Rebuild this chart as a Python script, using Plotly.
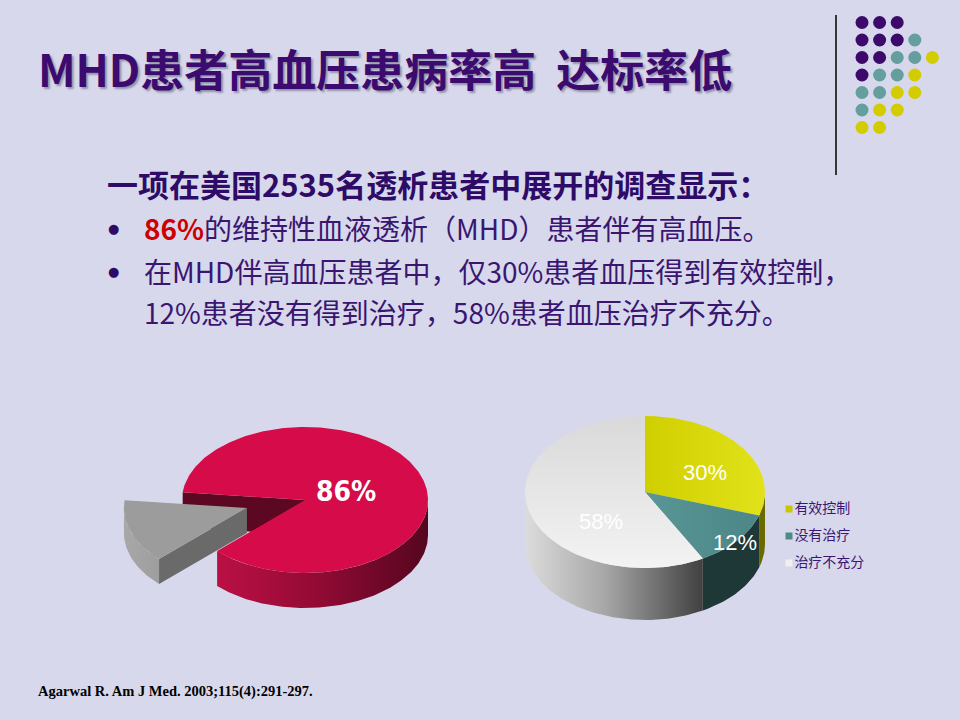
import numpy as np
import plotly.graph_objects as go

# ---- data ----
hbp_labels = ["无高血压", "伴有高血压"]
hbp_values = [14, 86]

ctrl_labels = ["有效控制", "没有治疗", "治疗不充分"]
ctrl_values = [30, 12, 58]

title_text = "MHD患者高血压患病率高  达标率低"
lead_text = "一项在美国2535名透析患者中展开的调查显示："
bullet_1 = "<span style='color:#CC0000'><b>86%</b></span>的维持性血液透析（MHD）患者伴有高血压。"
bullet_2 = ["在MHD伴高血压患者中，仅30%患者血压得到有效控制，",
            "12%患者没有得到治疗，58%患者血压治疗不充分。"]
source_text = "Agarwal R. Am J Med. 2003;115(4):291-297."

# decorative dot grid: P purple, T teal, Y yellow
dot_rows = ["PPP", "PPPT", "PPTTY", "PTTY", "TTYY", "TYY", "YY"]

BG = "#D8D8EC"
PURPLE = "#3B0B70"


def arc(cx, cy, a, b, t0, t1):
    n = max(int(abs(t1 - t0)), 2) + 1
    t = np.radians(np.linspace(t0, t1, n))
    return cx + a * np.cos(t), cy - b * np.sin(t)


def slice_angles(values, start, clockwise):
    total = float(sum(values))
    out, cur = [], start
    for v in values:
        span = 360.0 * v / total
        if clockwise:
            out.append((cur - span, cur))
            cur -= span
        else:
            out.append((cur, cur + span))
            cur += span
    return out


def poly(fig, xs, ys, color=None, grad=None):
    kw = dict(x=list(xs) + [xs[0]], y=list(ys) + [ys[0]], fill="toself", mode="lines",
              line=dict(width=0), hoverinfo="skip", showlegend=False)
    if grad is not None:
        kw["fillgradient"] = grad
        kw["fillcolor"] = grad["colorscale"][0][1]
    else:
        kw["fillcolor"] = color
    fig.add_trace(go.Scatter(**kw))


def add_walls(fig, cx, cy, a, b, depth, t0, t1, wall_scale, face_color=None, grad_stop=None):
    for k in range(-1, 3):
        lo, hi = max(t0, 180 + 360 * k), min(t1, 360 + 360 * k)
        if hi > lo:
            xs, ys = arc(cx, cy, a, b, lo, hi)
            px = np.concatenate([xs, xs[::-1]])
            py = np.concatenate([ys, ys[::-1] + depth])
            poly(fig, px, py, grad=dict(type="horizontal", colorscale=wall_scale,
                                         start=cx - a, stop=grad_stop if grad_stop else cx + a))
    if face_color:
        for t, vis in ((t0, np.cos(np.radians(t0)) > 0), (t1, np.cos(np.radians(t1)) < 0)):
            if vis:
                ex = cx + a * np.cos(np.radians(t))
                ey = cy - b * np.sin(np.radians(t))
                poly(fig, [cx, ex, ex, cx], [cy, ey, ey + depth, cy + depth], color=face_color)


def add_top(fig, cx, cy, a, b, t0, t1, color=None, grad=None):
    xs, ys = arc(cx, cy, a, b, t0, t1)
    poly(fig, np.concatenate([[cx], xs]), np.concatenate([[cy], ys]), color=color, grad=grad)


fig = go.Figure()

# ---- pie 1: 86% hypertension, exploded remainder ----
c1x, c1y, a1, b1, d1 = 305, 500, 123, 73, 35
ang1 = slice_angles(hbp_values, 174, clockwise=False)
(g0, g1), (r0, r1) = ang1
add_walls(fig, c1x, c1y, a1, b1, d1, r0, r1,
          [[0, "#C8124A"], [0.5, "#980B37"], [1, "#55061F"]], face_color="#5C0822")
add_top(fig, c1x, c1y, a1, b1, r0, r1, color="#D50C49")
mid = np.radians((g0 + g1) / 2)
gx = c1x + 0.5 * a1 * np.cos(mid)
gy = c1y - 0.5 * b1 * np.sin(mid) - 4
add_walls(fig, gx, gy, a1, b1, d1 - 10, g0, g1,
          [[0, "#A8A8A8"], [1, "#606060"]], face_color="#6A6A6A")
add_top(fig, gx, gy, a1, b1, g0, g1, color="#9C9C9C")
rm = np.radians((r0 + r1) / 2)
fig.add_annotation(x=c1x + 0.35 * a1 * np.cos(rm), y=c1y - 0.35 * b1 * np.sin(rm),
                   text=f"<b>{hbp_values[1]}%</b>", showarrow=False,
                   font=dict(family="DejaVu Sans Condensed, Liberation Sans Narrow, sans-serif",
                             size=28, color="white"))

# ---- pie 2: control status ----
c2x, c2y, a2, b2, d2 = 645, 492, 120, 76, 52
ang2 = slice_angles(ctrl_values, 90, clockwise=True)
walls2 = [
    [[0, "#9A9A00"], [1, "#6A6A00"]],
    [[0, "#2E5252"], [1, "#1E3838"]],
    [[0, "#DCDCDC"], [0.45, "#A6A6A6"], [1, "#3E3E3E"]],
]
tops2 = [
    dict(type="horizontal", colorscale=[[0, "#CFCF00"], [1, "#E2E21A"]]),
    dict(type="horizontal", colorscale=[[0, "#5A9696"], [1, "#4C8686"]]),
    dict(type="vertical", colorscale=[[0, "#F3F3F3"], [1, "#D9D9D9"]]),
]
for (t0, t1), ws in zip(ang2, walls2):
    add_walls(fig, c2x, c2y, a2, b2, d2, t0, t1, ws, grad_stop=c2x + 0.5 * a2)
for (t0, t1), tg in zip(ang2, tops2):
    add_top(fig, c2x, c2y, a2, b2, t0, t1, grad=tg)

label_pos = [(0.62, 8), (0.97, 4), (0.38, 22)]
for (t0, t1), v, (rf, dy) in zip(ang2, ctrl_values, label_pos):
    m = np.radians((t0 + t1) / 2)
    fig.add_annotation(x=c2x + rf * a2 * np.cos(m), y=c2y - rf * b2 * np.sin(m) + dy,
                       text=f"{v}%", showarrow=False,
                       font=dict(family="Liberation Sans, Arial, sans-serif", size=22, color="white"))

# legend for pie 2
leg_colors = ["#C8C800", "#4F8A8A", "#EFEFEF"]
fig.add_trace(go.Scatter(x=[789] * 3, y=[509 + 27 * i for i in range(3)], mode="markers+text",
                         marker=dict(symbol="square", size=7, color=leg_colors),
                         text=ctrl_labels, textposition="middle right",
                         textfont=dict(family="Noto Sans CJK SC", size=14, color="#3A1670"),
                         hoverinfo="skip", showlegend=False))

# decorative dots top-right
dcol = {"P": "#3D0A6B", "T": "#649E9E", "Y": "#D2CC00"}
dx, dy, dc = [], [], []
for r, row in enumerate(dot_rows):
    for c, ch in enumerate(row):
        dx.append(862 + 17.6 * c)
        dy.append(22.5 + 17.5 * r)
        dc.append(dcol[ch])
fig.add_trace(go.Scatter(x=dx, y=dy, mode="markers", marker=dict(size=13, color=dc),
                         hoverinfo="skip", showlegend=False))

fig.add_shape(type="line", x0=836, x1=836, y0=15, y1=175, line=dict(color="black", width=1.5))

# ---- texts ----
fig.add_annotation(x=36, y=68, xanchor="left", yanchor="middle", showarrow=False,
                   text=f"<b>{title_text}</b>",
                   font=dict(family="Noto Sans CJK SC", size=44, color=PURPLE, weight=900,
                             shadow="2px 2px 2px rgba(60,60,90,0.45)"))
fig.add_annotation(x=105, y=183, xanchor="left", yanchor="middle", showarrow=False,
                   text=f"<b>{lead_text}</b>",
                   font=dict(family="Noto Sans CJK SC", size=31, color="#2E0B66"))
body_font = dict(family="Noto Sans CJK SC", size=28, color="#3A1670")
for line, y in zip([bullet_1] + bullet_2, [228, 271, 312]):
    fig.add_annotation(x=142, y=y, xanchor="left", yanchor="middle", showarrow=False,
                       text=line, font=body_font)
for y in (228, 271):
    fig.add_annotation(x=113, y=y, showarrow=False, text="●",
                       font=dict(family="DejaVu Sans", size=13, color="#2E0B66"))
fig.add_annotation(x=36, y=691, xanchor="left", yanchor="middle", showarrow=False,
                   text=f"<b>{source_text}</b>",
                   font=dict(family="Liberation Serif, Times New Roman, serif", size=14.5, color="black"))

fig.update_layout(
    width=960, height=720,
    margin=dict(l=0, r=0, t=0, b=0),
    paper_bgcolor=BG, plot_bgcolor=BG,
    xaxis=dict(range=[0, 960], visible=False, fixedrange=True),
    yaxis=dict(range=[720, 0], visible=False, fixedrange=True),
    showlegend=False,
)

fig.write_html("out.html", config={"displayModeBar": False},
               post_script="document.body.style.margin='0';")
